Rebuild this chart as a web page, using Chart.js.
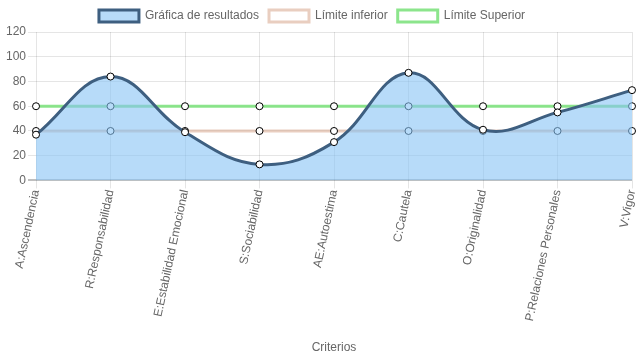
<!DOCTYPE html>
<html>
<head>
<meta charset="utf-8">
<script src="https://cdn.jsdelivr.net/npm/chart.js@4"></script>
<style>
  html, body { margin: 0; padding: 0; background: #fff; }
  #wrap { width: 637px; height: 359px; }
</style>
</head>
<body>
<div id="wrap"><canvas id="grafica"></canvas></div>
<script>
// Criterios y valores
const criterios = ['A:Ascendencia', 'R:Responsabilidad', 'E:Estabilidad Emocional', 'S:Sociabilidad',
    'AE:Autoestima', 'C:Cautela', 'O:Originalidad', 'P:Relaciones Personales', 'V:Vigor'];
const resultados = [37, 84, 39, 13, 31, 87, 41, 55, 73];
const limiteInferior = [40, 40, 40, 40, 40, 40, 40, 40, 40];
const limiteSuperior = [60, 60, 60, 60, 60, 60, 60, 60, 60];

Chart.defaults.font.family = 'Arial, "Liberation Sans", sans-serif';
Chart.defaults.font.size = 12;
Chart.defaults.color = '#666';

const puntos = {
    pointRadius: 3.5,
    pointBackgroundColor: '#fff',
    pointBorderColor: '#000',
    pointBorderWidth: 1,
    borderWidth: 3,
    tension: 0.4
};

// leyenda un poco a la izquierda, como en el original
const moverLeyenda = {
    id: 'moverLeyenda',
    beforeDraw(chart) {
        const leyenda = chart.legend;
        leyenda.left = chart.chartArea.left - 36;
        leyenda.right = chart.chartArea.right - 8;
    }
};

const ctx = document.getElementById('grafica').getContext('2d');
const grafica = new Chart(ctx, {
    type: 'line',
    data: {
        labels: criterios,
        datasets: [{
            label: 'Gráfica de resultados',
            data: resultados,
            borderColor: 'rgba(62, 95, 128, 1)',
            backgroundColor: 'rgba(135, 195, 245, 0.6)',
            fill: 'origin',
            ...puntos
        }, {
            label: 'Límite inferior',
            data: limiteInferior,
            borderColor: 'rgba(215, 165, 140, 0.55)',
            backgroundColor: '#fff',
            fill: false,
            ...puntos
        }, {
            label: 'Límite Superior',
            data: limiteSuperior,
            borderColor: 'rgba(120, 225, 120, 0.85)',
            backgroundColor: '#fff',
            fill: false,
            ...puntos
        }]
    },
    plugins: [moverLeyenda],
    options: {
        responsive: true,
        maintainAspectRatio: false,
        animation: false,
        layout: { padding: { left: 4, right: 4, top: 0, bottom: 4 } },
        plugins: {
            legend: {
                labels: { boxWidth: 40, boxHeight: 12, padding: 10 }
            },
            tooltip: { enabled: false }
        },
        scales: {
            x: {
                grid: {
                    color: 'rgba(0,0,0,0.1)',
                    tickLength: 8
                },
                border: { display: false },
                ticks: { minRotation: 78, maxRotation: 78, padding: 0 },
                title: { display: true, text: 'Criterios', padding: { top: 18, bottom: 0 } },
                // sin margen extra a los lados por las etiquetas giradas
                afterFit: scale => {
                    scale.paddingLeft = 0;
                    scale.paddingRight = 0;
                }
            },
            y: {
                min: 0,
                max: 120,
                grid: {
                    color: ctx => ctx.tick.value === 0 ? 'rgba(0,0,0,0.25)' : 'rgba(0,0,0,0.1)',
                    lineWidth: ctx => ctx.tick.value === 0 ? 2 : 1,
                    tickLength: 8
                },
                border: { display: false },
                ticks: { stepSize: 20, padding: 2 }
            }
        }
    }
});
</script>
</body>
</html>
